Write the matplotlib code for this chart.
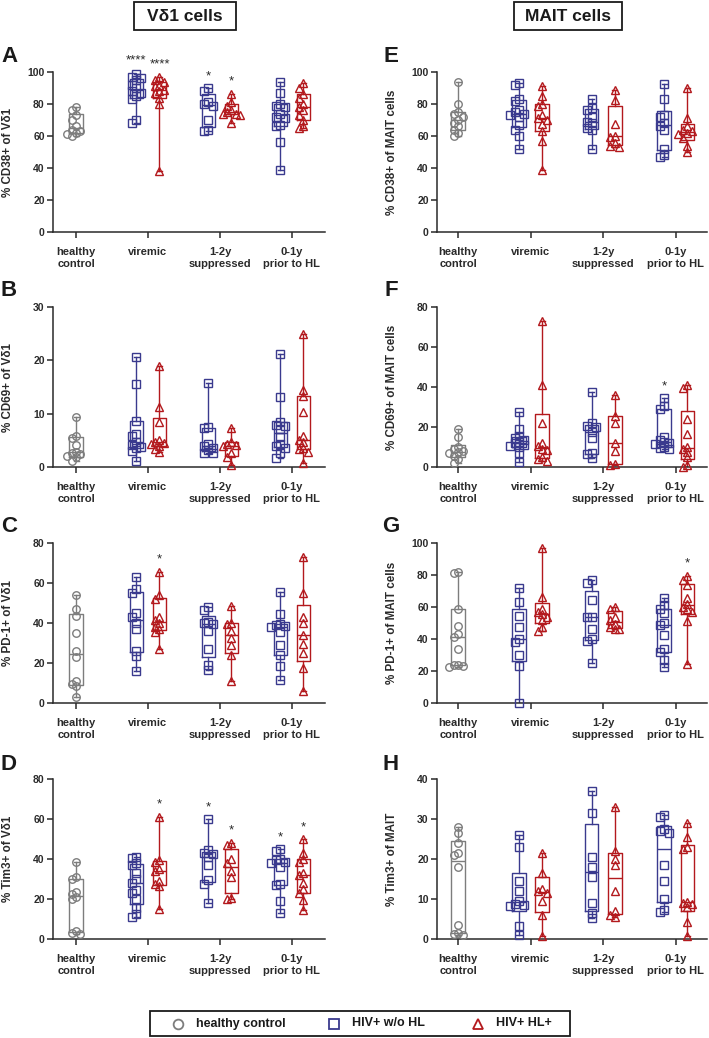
import numpy as np
import matplotlib
matplotlib.use('Agg')
import matplotlib.pyplot as plt
from matplotlib.patches import Rectangle
from matplotlib.lines import Line2D

plt.rcParams['font.family'] = ['Liberation Sans', 'DejaVu Sans']
plt.rcParams['font.weight'] = 'bold'

cats = ['healthy\ncontrol', 'viremic', '1-2y\nsuppressed', '0-1y\nprior to HL']

# ---- Vd1 cells ----
cd38_vd1_hc = [78, 76, 73, 70, 66, 64, 63, 62, 61, 60]
cd38_vd1_wo = [[99, 97, 96, 95, 92, 90, 88, 87, 85, 83, 70, 68],
               [90, 88, 81, 80, 79, 70, 64, 63],
               [94, 87, 80, 79, 78, 74, 72, 71, 67, 66, 56, 39]]
cd38_vd1_hl = [[97, 95, 94, 92, 91, 89, 88, 87, 84, 80, 38],
               [86, 81, 79, 76, 75, 74, 74, 73, 68],
               [93, 90, 86, 84, 80, 78, 76, 73, 70, 66, 65]]

cd69_vd1_hc = [9.4, 5.8, 5.5, 4.2, 2.9, 2.7, 2.5, 2.0, 1.8, 1.2]
cd69_vd1_wo = [[20.7, 15.5, 8.6, 6.2, 5.8, 4.7, 4.2, 3.8, 3.6, 3.0, 1.2],
               [15.7, 7.5, 7.3, 4.4, 4.0, 3.6, 3.2, 2.7, 2.6],
               [21.1, 13.2, 8.5, 7.9, 7.6, 7.2, 5.7, 4.3, 3.9, 3.6, 2.6, 1.7]]
cd69_vd1_hl = [[19, 11.3, 8.5, 5.0, 4.7, 4.5, 4.3, 4.0, 3.4, 2.9],
               [7.4, 4.7, 4.3, 4.1, 3.9, 2.6, 1.9, 0.3],
               [25, 14.4, 13.4, 10.4, 5.9, 5.0, 4.7, 3.6, 3.4, 2.8, 0.7]]

pd1_vd1_hc = [54, 47, 43.5, 35, 26, 23, 11, 9.5, 8.5, 3]
pd1_vd1_wo = [[63, 57, 55, 45, 43, 40, 37, 26, 23.5, 16],
              [48, 46.5, 40.5, 40, 39.5, 36, 27, 19, 16.5],
              [55.5, 44.5, 39.5, 39, 38.5, 38, 35.5, 29, 24, 18.5, 11.5]]
pd1_vd1_hl = [[65.5, 54, 52, 43, 41.5, 40, 38, 37, 35.5, 27],
              [48.5, 40, 39.5, 36, 32.5, 29, 24, 11],
              [73, 55, 43, 40, 34, 29.5, 25, 17.5, 6]]

tim3_vd1_hc = [38.5, 31, 30, 23.5, 22.5, 21, 20, 4, 3, 2.5]
tim3_vd1_wo = [[40.8, 40.3, 38, 37, 33, 30, 28, 24.5, 23, 20, 15.5, 12.5, 11],
               [60, 44.5, 43, 42.5, 41, 37, 29.5, 27.5, 18],
               [45, 44, 40, 39.5, 38.5, 38, 36, 27.5, 27, 19, 13]]
tim3_vd1_hl = [[61, 39.5, 38.5, 35, 34, 29, 27.5, 26.5, 15],
               [48, 47, 40, 38, 34, 31, 20.5, 20],
               [50, 43, 40, 38.5, 33, 32, 28, 25, 23, 19.5, 14.5]]

# ---- MAIT cells ----
cd38_mait_hc = [93.5, 80, 75, 74, 72, 70, 68, 66, 64, 62, 60]
cd38_mait_wo = [[93, 92, 83, 82, 76, 75, 74, 73, 72, 67, 64, 60, 52],
                [83, 77.5, 76.5, 72, 69, 68, 65, 63.5, 52],
                [92.5, 83, 73, 72, 68, 66, 64, 52, 48, 47]]
cd38_mait_hl = [[91, 85, 80, 79, 73, 71.5, 70, 67.5, 63, 57, 39],
                [89, 82.5, 67.5, 60, 59.5, 55.5, 54, 53],
                [90, 71, 66, 64, 63, 62, 61, 59, 54, 50]]

cd69_mait_hc = [19, 15, 10, 9, 8, 7.5, 7, 5.5, 4, 2]
cd69_mait_wo = [[27.5, 19, 15.5, 14.5, 13.5, 12.5, 12, 11, 10.5, 10, 7, 2.7],
                [37.5, 22, 20.5, 20, 17.5, 14.5, 7, 6.5, 4.5],
                [34.5, 30.5, 29, 15, 13.5, 12.5, 12, 11.5, 10, 9.5, 9]]
cd69_mait_hl = [[73, 41, 22, 12, 10.5, 9, 8.5, 5, 4, 3],
                [36, 25.5, 22, 12, 8, 1.5, 1],
                [41, 39.5, 24, 16.5, 10, 9, 7.5, 5, 1, 0]]

pd1_mait_hc = [82, 81, 59, 48, 43, 41, 34, 24, 23.5, 23, 22.5]
pd1_mait_wo = [[72, 63, 54.5, 47.5, 40, 38, 30, 23, 0],
               [77, 75, 64.5, 54, 53.5, 46, 40, 38.5, 25],
               [65.5, 61, 58.5, 56, 50, 49, 42.5, 34, 32, 27, 22.5]]
pd1_mait_hl = [[97, 66, 59, 57, 55.5, 54, 52, 47.5, 45],
               [60, 58.5, 54, 52, 49.5, 47.5, 46.5, 46],
               [79.5, 77, 73.5, 65.5, 62, 60, 58.5, 57, 51, 24.5]]

tim3_mait_hc = [28, 26.5, 24, 21.5, 21, 18, 3.5, 1.5, 1.2, 1.0]
tim3_mait_wo = [[26, 23, 14.5, 12, 9.5, 8.8, 8.5, 8.3, 3.3, 1],
                [37, 31.5, 20.5, 18, 15.5, 9, 6.5, 5.2],
                [31, 30.5, 27.5, 27, 26.5, 18.5, 14.5, 10, 7.2, 6.8]]
tim3_mait_hl = [[21.5, 16.5, 12.5, 12, 11.5, 9.5, 6, 0.7],
                [33, 22, 20, 18.5, 12, 7, 6, 5.5],
                [29, 25.5, 23, 22.5, 9.3, 9, 8.8, 8, 4.3, 0.7]]

# significance stars: (group 1..3, series 'wo'/'hl', text, y)
stars_a = [(1, 'wo', '****', 107.5), (1, 'hl', '****', 105), (2, 'wo', '*', 97.5), (2, 'hl', '*', 94)]
stars_c = [(1, 'hl', '*', 72)]
stars_d = [(1, 'hl', '*', 67.5), (2, 'wo', '*', 66), (2, 'hl', '*', 54.5), (3, 'wo', '*', 51), (3, 'hl', '*', 56)]
stars_f = [(3, 'wo', '*', 40.5)]
stars_g = [(3, 'hl', '*', 87)]

panels = [
    ('A', '% CD38+ of V\u03b41', cd38_vd1_hc, cd38_vd1_wo, cd38_vd1_hl, 100, 20, stars_a),
    ('B', '% CD69+ of V\u03b41', cd69_vd1_hc, cd69_vd1_wo, cd69_vd1_hl, 30, 10, []),
    ('C', '% PD-1+ of V\u03b41', pd1_vd1_hc, pd1_vd1_wo, pd1_vd1_hl, 80, 20, stars_c),
    ('D', '% Tim3+ of V\u03b41', tim3_vd1_hc, tim3_vd1_wo, tim3_vd1_hl, 80, 20, stars_d),
    ('E', '% CD38+ of MAIT cells', cd38_mait_hc, cd38_mait_wo, cd38_mait_hl, 100, 20, []),
    ('F', '% CD69+ of MAIT cells', cd69_mait_hc, cd69_mait_wo, cd69_mait_hl, 80, 20, stars_f),
    ('G', '% PD-1+ of MAIT cells', pd1_mait_hc, pd1_mait_wo, pd1_mait_hl, 100, 20, stars_g),
    ('H', '% Tim3+ of MAIT', tim3_mait_hc, tim3_mait_wo, tim3_mait_hl, 40, 10, []),
]

GRAY = '#7d7d7d'
BLUE = '#3a3a8e'
RED = '#b3191d'
AX = '#2a2a2a'
W, H = 709, 1038
row_tops = [72, 307, 543, 779]
ax_h = 160


def swarm(vals, ymax, step=0.062):
    vals = np.asarray(vals, float)
    h = ymax * 5.0 / ax_h
    offs = np.zeros(len(vals))
    placed = []
    for i in np.argsort(-vals):
        used = {k for (pv, k) in placed if abs(pv - vals[i]) < h}
        for k in [0, -1, 1, -2, 2, -3, 3]:
            if k not in used:
                break
        placed.append((vals[i], k))
        offs[i] = k * step
    return offs


def draw_group(ax, x, vals, color, marker, ymax, ms):
    vals = np.asarray(vals, float)
    q1, med, q3 = np.percentile(vals, [25, 50, 75], method='weibull')
    st = dict(med=med, q1=q1, q3=q3, whislo=vals.min(), whishi=vals.max())
    lp = dict(color=color, linewidth=1.0)
    ax.bxp([st], positions=[x], widths=0.19, showfliers=False, capwidths=0.07,
           boxprops=lp, whiskerprops=lp, capprops=lp, medianprops=lp,
           manage_ticks=False, zorder=2)
    ax.plot(x + swarm(vals, ymax), vals, linestyle='none', marker=marker, ms=ms,
            mfc='none', mec=color, mew=1.0, zorder=3, clip_on=False)


fig = plt.figure(figsize=(W / 100, H / 100), dpi=100)

for idx, (letter, ylab, hc, wo, hl, ymax, ystep, stars) in enumerate(panels):
    col, row = divmod(idx, 4)
    if col == 0:
        x0, x1, xl = 53, 325, (-0.32, 3.46)
    else:
        x0, x1, xl = 437, 707, (-0.29, 3.43)
    top = row_tops[row]
    ax = fig.add_axes([x0 / W, 1 - (top + ax_h) / H, (x1 - x0) / W, ax_h / H])
    draw_group(ax, 0, hc, GRAY, 'o', ymax, 5.4)
    for g in range(3):
        draw_group(ax, g + 1 - 0.16, wo[g], BLUE, 's', ymax, 5.2)
        draw_group(ax, g + 1 + 0.16, hl[g], RED, '^', ymax, 5.6)
    for g, ser, txt, y in stars:
        xs = g + (-0.16 if ser == 'wo' else 0.16)
        ax.text(xs, y, txt, ha='center', va='center', fontsize=9.5, color=AX,
                fontweight='normal')
    ax.set_xlim(*xl)
    ax.set_ylim(0, ymax)
    ax.set_yticks(np.arange(0, ymax + 0.1, ystep))
    ax.set_xticks(range(4))
    ax.set_xticklabels(cats, fontsize=8, fontweight='bold', linespacing=1.25)
    ax.tick_params(axis='y', labelsize=7.5, length=4, width=1.1, color=AX, pad=2, labelcolor=AX)
    ax.tick_params(axis='x', length=4, width=1.1, color=AX, pad=7, labelcolor=AX)
    for s in ['top', 'right']:
        ax.spines[s].set_visible(False)
    for s in ['left', 'bottom']:
        ax.spines[s].set_linewidth(1.1)
        ax.spines[s].set_color(AX)
    ax.set_ylabel(ylab, fontsize=8.4, fontweight='bold', color=AX)
    ax.yaxis.set_label_coords(-0.145, 0.5)
    lx = 9 if col == 0 else 391
    ly = [57, 290, 527, 765][row]
    fig.text(lx / W, 1 - ly / H, letter, fontsize=16, fontweight='bold',
             ha='center', va='center', color='#1a1a1a')

# column headers
for (bx0, bx1, label) in [(134, 236, 'V\u03b41 cells'), (514, 622, 'MAIT cells')]:
    fig.patches.append(Rectangle((bx0 / W, 1 - 30 / H), (bx1 - bx0) / W, 28 / H,
                                 transform=fig.transFigure, fill=False,
                                 edgecolor='#1a1a1a', linewidth=1.3))
    fig.text((bx0 + bx1) / 2 / W, 1 - 16.5 / H, label, fontsize=12.5,
             fontweight='bold', ha='center', va='center', color='#1a1a1a')

# legend box
fig.patches.append(Rectangle((150 / W, 1 - 1036 / H), 420 / W, 25 / H,
                             transform=fig.transFigure, fill=False,
                             edgecolor='#1a1a1a', linewidth=1.3))
leg_items = [(178, 'o', GRAY, 7, 'healthy control'),
             (334, 's', BLUE, 7, 'HIV+ w/o HL'),
             (478, '^', RED, 7.5, 'HIV+ HL+')]
ly = 1 - 1023.5 / H
for mx, mk, c, ms, lab in leg_items:
    fig.add_artist(Line2D([mx / W], [ly], transform=fig.transFigure, ls='none',
                          marker=mk, ms=ms, mfc='none', mec=c, mew=1.3))
    fig.text((mx + 18) / W, ly, lab, fontsize=9, fontweight='bold',
             ha='left', va='center', color='#1a1a1a')

fig.savefig('out.png', dpi=100, facecolor='white')
